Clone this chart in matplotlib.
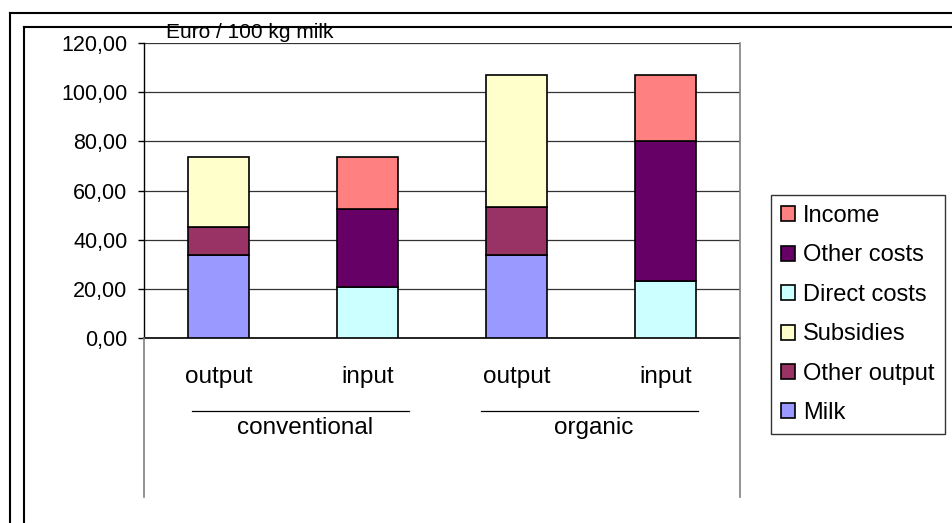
import matplotlib
matplotlib.use('Agg')
import matplotlib.pyplot as plt
from matplotlib.lines import Line2D
from matplotlib.patches import Patch

plt.rcParams['font.family'] = ['Liberation Sans', 'DejaVu Sans']

W, H = 952, 523

# bars: output / input for each farming system
sides = ['output', 'input', 'output', 'input']
groups = ['conventional', 'organic']

milk = [33.8, 0, 33.8, 0]
other_output = [11.5, 0, 19.6, 0]
subsidies = [28.5, 0, 53.6, 0]
direct_costs = [0, 20.9, 0, 23.3]
other_costs = [0, 31.7, 0, 56.8]
income = [0, 21.2, 0, 26.9]

series = [
    ('Milk', milk, '#9999FF'),
    ('Other output', other_output, '#993366'),
    ('Subsidies', subsidies, '#FFFFCC'),
    ('Direct costs', direct_costs, '#CCFFFF'),
    ('Other costs', other_costs, '#660066'),
    ('Income', income, '#FF8080'),
]

yticks = [0, 20, 40, 60, 80, 100, 120]


def fx(px):
    return px / W


def fy(py):
    return 1 - py / H


fig = plt.figure(figsize=(W / 100, H / 100), dpi=100)

# plot area in pixel coordinates
X0, X1, Y0, Y1 = 144, 740, 43, 338
ax = fig.add_axes([fx(X0), fy(Y1), fx(X1) - fx(X0), fy(Y0) - fy(Y1)])
ax.set_xlim(-0.5, 3.5)
ax.set_ylim(0, 120)

x = range(len(sides))
bottom = [0] * len(sides)
for name, vals, col in series:
    for i in x:
        if vals[i] > 0:
            ax.bar(i, vals[i], bottom=bottom[i], width=0.41, color=col,
                   edgecolor='black', linewidth=1.2, zorder=3)
    bottom = [b + v for b, v in zip(bottom, vals)]

ax.set_yticks(yticks)
ax.set_yticklabels([f'{v:.2f}'.replace('.', ',') for v in yticks], fontsize=15.5)
ax.tick_params(axis='y', length=4, width=1, pad=8)
ax.set_xticks([])
ax.yaxis.grid(True, color='#333333', linewidth=0.9, zorder=0)
ax.set_axisbelow(True)
for s in ['top', 'right']:
    ax.spines[s].set_visible(False)
ax.spines['left'].set_linewidth(1)
ax.spines['bottom'].set_linewidth(1.2)

# category labels below the axis
def ay(py):
    return (Y1 - py) / (Y1 - Y0)

tr = ax.get_xaxis_transform()
for i, s in enumerate(sides):
    ax.text(i, ay(377), s, transform=tr, ha='center', va='center',
            fontsize=17.5, clip_on=False)

group_spans = [(-0.18, 1.28), (1.76, 3.22)]
for g, (a, b) in zip(groups, group_spans):
    ax.add_line(Line2D([a, b], [ay(411), ay(411)], transform=tr, color='black',
                       linewidth=0.9, clip_on=False))
    ax.text((a + b) / 2 + 0.03, ay(428), g, transform=tr, ha='center',
            va='center', fontsize=17.5, clip_on=False)

# plot-area border lines extending down past the category axis
fig.add_artist(Line2D([fx(X0), fx(X0)], [fy(Y1), fy(497)], color='#808080', linewidth=1.2))
fig.add_artist(Line2D([fx(X1), fx(X1)], [fy(Y0), fy(497)], color='#808080', linewidth=1.2))

# chart frames
for off in [(10, 13), (23.5, 27)]:
    fig.add_artist(Line2D([fx(off[0]), fx(off[0])], [fy(off[1]), 0], color='black', linewidth=1.5))
    fig.add_artist(Line2D([fx(off[0]), 1], [fy(off[1]), fy(off[1])], color='black', linewidth=1.5))

fig.text(fx(166), fy(33), 'Euro / 100 kg milk', fontsize=15, ha='left', va='center')

handles = [Patch(facecolor=c, edgecolor='black', linewidth=1.2, label=n)
           for n, _, c in reversed(series)]
leg = fig.legend(handles=handles, loc='upper left', bbox_to_anchor=(fx(771), fy(195)),
                 fontsize=17, frameon=True, fancybox=False, edgecolor='black',
                 handlelength=0.6, handleheight=0.6, handletextpad=0.35,
                 labelspacing=0.74, borderpad=0.42, borderaxespad=0)
leg.get_frame().set_linewidth(1)

fig.savefig('out.png', dpi=100)
